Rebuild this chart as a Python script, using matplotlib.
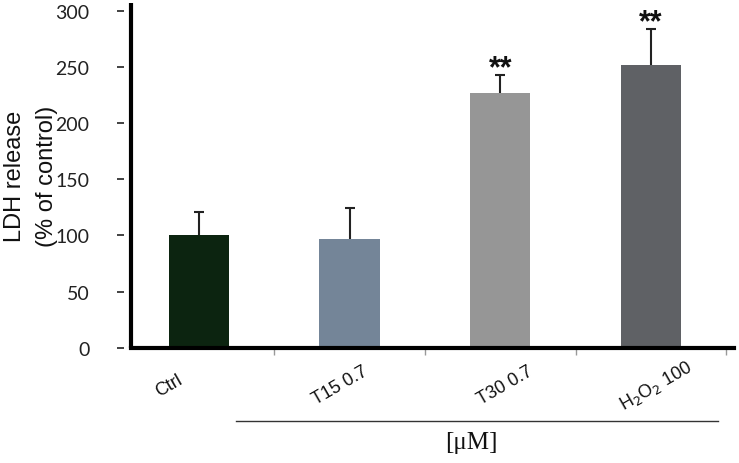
import matplotlib
matplotlib.use("Agg")
import matplotlib.pyplot as plt
from matplotlib.lines import Line2D

categories = ["Ctrl", "T15 0.7", "T30 0.7", "H$_2$O$_2$ 100"]
values = [100, 97, 227, 252]
errors = [21, 27, 16, 32]
significance = ["", "", "**", "**"]
yticks = [0, 50, 100, 150, 200, 250, 300]
unit_label = "[\u03bcM]"
ylabel = "LDH release\n(% of control)"

colors = ["#0c2410", "#748598", "#969696", "#5f6165"]
label_dx = [-0.2, -0.06, 0.03, 0.03]

W, H = 739, 464
fig = plt.figure(figsize=(W / 100, H / 100), dpi=100)
ax = fig.add_axes([131 / W, 1 - 348.7 / H, (734 - 131) / W, (348.7 - 4) / H])

x = list(range(len(categories)))
ax.bar(x, values, width=0.4, color=colors, zorder=2)
_, caps, _ = ax.errorbar(x, values, yerr=[[0] * len(errors), errors], fmt="none",
                         ecolor="#222222", elinewidth=1.5, capsize=3.3,
                         capthick=1.5, zorder=3)
for c in caps:
    if list(c.get_ydata()) == list(values):
        c.set_visible(False)

for xi, v, e, s in zip(x, values, errors, significance):
    if s:
        ax.annotate(s, (xi, v + e), xytext=(0, 7), textcoords="offset pixels",
                    ha="center", va="center", fontsize=22, fontweight="bold",
                    family="Liberation Sans", color="#111111")

ax.set_xlim(-0.45, 3.55)
ax.set_ylim(0, 307)

for side in ["top", "right"]:
    ax.spines[side].set_visible(False)
ax.spines["left"].set_linewidth(3)
ax.spines["bottom"].set_linewidth(3)
ax.spines["left"].set_capstyle("butt")

# y ticks: short dashes separated from the spine
ax.set_yticks(yticks)
ax.tick_params(axis="y", length=0, pad=30)
for lab in ax.get_yticklabels():
    lab.set_fontfamily("Lato")
    lab.set_fontsize(14)
    lab.set_color("#222222")
for yt in yticks:
    ax.plot([-0.023, -0.011], [yt, yt], transform=ax.get_yaxis_transform(),
            color="#333333", lw=1.3, clip_on=False, solid_capstyle="butt")

# x ticks: minor marks between bars, labels rotated
ax.set_xticks([i + 0.5 for i in x], minor=True)
ax.set_xticks([])
ax.tick_params(axis="x", which="minor", length=5, width=1, color="#999999", direction="out")
for xi, lab, dx in zip(x, categories, label_dx):
    ax.text(xi + dx, -33, lab, rotation=30, rotation_mode="anchor",
            ha="center", va="center", fontsize=13, family="Liberation Sans",
            color="#111111", clip_on=False)

fig.text(31 / W, 1 - 176 / H, ylabel, rotation=90, ha="center", va="center",
         family="Liberation Sans", fontsize=17, linespacing=1.55,
         multialignment="center", color="#111111")

fig.add_artist(Line2D([236 / W, 718 / W], [1 - 422 / H, 1 - 422 / H],
                      transform=fig.transFigure, color="#333333", lw=1))
fig.text(471 / W, 1 - 443 / H, unit_label, ha="center", va="center",
         family="Liberation Serif", fontsize=18, color="#111111")

fig.savefig("out.png", dpi=100)
